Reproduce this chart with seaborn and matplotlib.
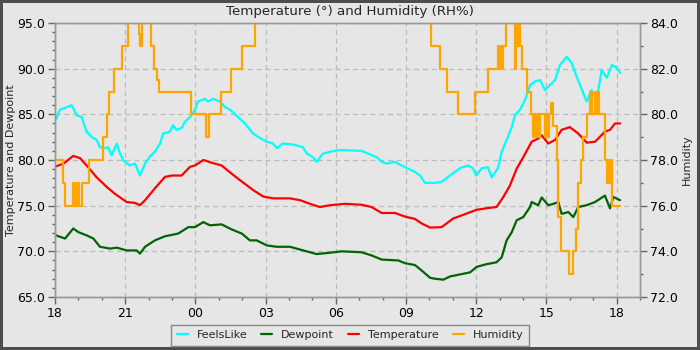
#!/usr/bin/env python3
"""
Temperature / humidity chart for the last 25 hours (18:00 -> 19:00 next day).
Times are hours after 18:00. Humidity is plotted as steps on a right-hand axis.
"""

import numpy as np
import pandas as pd
import matplotlib
matplotlib.use("Agg")
import matplotlib.pyplot as plt
from matplotlib.ticker import MultipleLocator, FuncFormatter, FormatStrFormatter
import seaborn as sns

# FeelsLike (deg)
feels_t = [0.04, 0.21, 0.43, 0.71, 0.93, 1.14, 1.35, 1.57, 1.78, 1.92, 2.14, 2.27, 2.42, 2.64,
           2.78, 2.91, 3.2, 3.42, 3.63, 3.85, 4.06, 4.27, 4.49, 4.62, 4.91, 5.04, 5.2, 5.41,
           5.56, 5.77, 5.98, 6.11, 6.41, 6.54, 6.75, 7.05, 7.26, 7.48, 7.82, 8.12, 8.46, 8.76,
           9.05, 9.32, 9.47, 9.74, 10.17, 10.6, 10.76, 11.03, 11.18, 11.45, 11.75, 12.18, 13.1,
           13.38, 13.75, 13.96, 14.17, 14.53, 14.96, 15.38, 15.6, 15.81, 16.24, 16.52, 16.88,
           17.3, 17.65, 17.86, 18.0, 18.24, 18.5, 18.66, 18.93, 19.09, 19.3, 19.52, 19.66,
           19.87, 20.09, 20.3, 20.51, 20.73, 20.94, 21.15, 21.37, 21.58, 21.87, 22.08, 22.35,
           22.72, 22.93, 23.15, 23.36, 23.58, 23.8, 24.0, 24.15]
feels_v = [84.4, 85.5, 85.7, 86.0, 84.9, 84.7, 83.1, 82.5, 82.2, 81.4, 81.3, 81.4, 80.5, 81.8,
           80.7, 80.0, 79.4, 79.6, 78.3, 79.6, 80.4, 80.9, 81.8, 82.9, 83.1, 83.8, 83.3, 83.5,
           84.2, 84.7, 85.5, 86.4, 86.7, 86.4, 86.7, 86.4, 85.8, 85.5, 84.7, 84.0, 82.9, 82.4,
           82.0, 81.8, 81.3, 81.8, 81.7, 81.4, 80.7, 80.3, 79.8, 80.7, 80.9, 81.1, 81.0,
           80.7, 80.3, 79.8, 79.6, 79.8, 79.2, 78.7, 78.3, 77.5, 77.5, 77.6, 78.3,
           79.1, 79.4, 79.1, 78.3, 79.1, 79.2, 78.1, 79.1, 80.9, 82.2, 83.6, 84.9,
           85.5, 86.6, 88.2, 88.6, 88.75, 87.65, 88.2, 88.75, 90.4, 91.3, 90.6, 88.75,
           86.4, 87.65, 86.6, 89.85, 89.0, 90.4, 90.1, 89.55]

# Temperature (deg)
temp_t = [0.04, 0.36, 0.78, 1.07, 1.42, 1.78, 2.21, 2.56, 3.06, 3.42, 3.63, 3.85, 4.27, 4.7,
          4.99, 5.41, 5.77, 5.98, 6.34, 6.7, 7.12, 7.55, 7.9, 8.47, 8.9, 9.33, 10.04, 10.47,
          10.9, 11.32, 11.75, 12.39, 13.1, 13.53, 13.96, 14.53, 14.96, 15.38, 15.67, 16.03,
          16.52, 17.02, 17.45, 18.02, 18.52, 18.87, 19.16, 19.44, 19.73, 20.01, 20.37, 20.65,
          20.8, 21.08, 21.37, 21.65, 22.0, 22.36, 22.72, 23.08, 23.5, 23.72, 23.93, 24.15]
temp_v = [79.3, 79.6, 80.45, 80.2, 79.2, 78.1, 77.05, 76.3, 75.4, 75.3, 75.05, 75.6, 76.9, 78.15,
          78.3, 78.3, 79.25, 79.4, 80.0, 79.7, 79.4, 78.5, 77.8, 76.7, 76.0, 75.8, 75.8, 75.6,
          75.2, 74.85, 75.05, 75.2, 75.1, 74.85, 74.2, 74.2, 73.8, 73.55, 73.05, 72.6,
          72.65, 73.6, 74.0, 74.55, 74.75, 74.85, 75.95, 77.2, 79.05, 80.3, 82.0, 82.35,
          82.7, 81.8, 82.2, 83.3, 83.6, 82.9, 81.9, 82.0, 83.1, 83.3, 84.0, 84.0]

# Dewpoint (deg)
dew_t = [0.04, 0.43, 0.78, 1.0, 1.35, 1.64, 1.92, 2.35, 2.64, 3.06, 3.49, 3.63, 3.85, 4.27,
         4.7, 5.27, 5.7, 5.98, 6.34, 6.62, 7.12, 7.55, 7.98, 8.33, 8.62, 9.05, 9.47, 10.04,
         10.61, 11.18, 11.75, 12.25, 13.1, 13.53, 13.96, 14.67, 14.96, 15.38, 15.67, 16.03,
         16.24, 16.6, 16.88, 17.17, 17.74, 18.02, 18.45, 18.87, 19.09, 19.3, 19.52, 19.73,
         20.01, 20.3, 20.37, 20.65, 20.8, 21.08, 21.3, 21.51, 21.65, 21.94, 22.15, 22.36,
         22.72, 23.08, 23.5, 23.72, 23.86, 24.15]
dew_v = [71.75, 71.4, 72.5, 72.1, 71.75, 71.4, 70.5, 70.3, 70.4, 70.1, 70.1, 69.75, 70.5, 71.2,
         71.65, 71.95, 72.65, 72.65, 73.2, 72.85, 72.95, 72.4, 71.95, 71.2, 71.2, 70.65, 70.5, 70.5,
         70.1, 69.7, 69.85, 70.0, 69.9, 69.55, 69.1, 69.0, 68.7, 68.5, 67.9, 67.1,
         67.0, 66.9, 67.25, 67.4, 67.7, 68.3, 68.6, 68.8, 69.35, 71.2, 72.1, 73.4,
         73.75, 74.85, 75.4, 75.05, 75.9, 75.05, 75.2, 75.4, 74.1, 74.3, 73.75, 74.85,
         75.05, 75.4, 76.1, 74.7, 75.95, 75.6]

# Humidity (RH%), step changes; values above 84 run off the top of the chart
hum_t = [0.04, 0.33, 0.41, 0.76, 0.82, 0.87, 0.94, 0.98, 1.04, 1.15, 1.44, 2.04, 2.24, 2.32,
         2.52, 2.85, 3.11, 3.59, 3.65, 3.70, 4.09, 4.23, 4.38, 4.44, 5.81, 6.44, 6.58, 7.08,
         7.52, 7.98, 8.55, 16.07, 16.45, 16.74, 17.24, 17.95, 18.52, 18.93, 18.99, 19.06,
         19.1, 19.16, 19.27, 19.66, 19.70, 19.76, 19.82, 19.88, 19.94, 20.16, 20.34, 20.43,
         20.49, 20.56, 20.62, 20.68, 20.73, 20.94, 21.0, 21.06, 21.13, 21.2, 21.3, 21.44,
         21.51, 21.62, 21.97, 22.13, 22.27, 22.37, 22.48, 22.58, 22.72, 22.86, 22.93, 23.06,
         23.12, 23.18, 23.25, 23.5, 23.57, 23.62, 23.69, 23.75, 23.82, 24.15]
hum_v = [78, 77, 76, 77, 76, 77, 76, 77, 76, 77, 78, 79, 80, 81,
         82, 83, 85, 83.5, 83, 85, 83, 82, 81.5, 81, 80, 79, 80, 81,
         82, 83, 85, 83, 82, 81, 80, 81, 82, 83, 82, 83,
         82, 83, 85, 82, 85, 83, 85, 83, 82, 81, 80, 79,
         80, 79, 80, 79, 80, 79, 80, 79, 80, 80.5, 79.5, 78,
         75.5, 74, 73, 74, 75, 77, 78, 79, 80, 81, 80, 81,
         80, 81, 80, 78, 77, 78, 77, 78, 76, 76]

BG = "#e6e6e6"
COLORS = {"FeelsLike": "#00ffff", "Dewpoint": "#006400", "Temperature": "#ff0000", "Humidity": "#ffa500"}

sns.set_theme(style="ticks")
plt.rcParams["font.family"] = ["DejaVu Sans"]

fig = plt.figure(figsize=(7, 3.5), dpi=100, facecolor=BG, edgecolor="#4d4d4d", linewidth=4)
ax = fig.add_axes([55 / 700, 1 - 297 / 350, (640 - 55) / 700, (297 - 23) / 350])
ax.set_facecolor(BG)
ax2 = ax.twinx()

df_feels = pd.DataFrame({"t": feels_t, "v": feels_v})
df_dew = pd.DataFrame({"t": dew_t, "v": dew_v})
df_temp = pd.DataFrame({"t": temp_t, "v": temp_v})
df_hum = pd.DataFrame({"t": hum_t, "v": hum_v})

sns.lineplot(data=df_feels, x="t", y="v", color=COLORS["FeelsLike"], lw=1.6, label="FeelsLike", ax=ax)
sns.lineplot(data=df_dew, x="t", y="v", color=COLORS["Dewpoint"], lw=1.6, label="Dewpoint", ax=ax)
sns.lineplot(data=df_temp, x="t", y="v", color=COLORS["Temperature"], lw=1.6, label="Temperature", ax=ax)
sns.lineplot(data=df_hum, x="t", y="v", color=COLORS["Humidity"], lw=1.6, label="Humidity",
             drawstyle="steps-post", ax=ax2)
for a in (ax, ax2):
    if a.get_legend() is not None:
        a.get_legend().remove()

# axes, ticks, grid
ax.set_xlim(0, 25)
ax.set_ylim(65, 95)
ax2.set_ylim(72, 84)
ax.xaxis.set_major_locator(MultipleLocator(3))
ax.xaxis.set_minor_locator(MultipleLocator(1))
ax.xaxis.set_major_formatter(FuncFormatter(lambda v, p: f"{(18 + int(round(v))) % 24:02d}"))
ax.yaxis.set_major_locator(MultipleLocator(5))
ax.yaxis.set_minor_locator(MultipleLocator(1))
ax.yaxis.set_major_formatter(FormatStrFormatter("%.1f"))
ax2.yaxis.set_major_locator(MultipleLocator(2))
ax2.yaxis.set_minor_locator(MultipleLocator(1))
ax2.yaxis.set_major_formatter(FormatStrFormatter("%.1f"))

for a in (ax, ax2):
    a.tick_params(which="major", direction="out", length=5, width=1, color="#666666",
                  labelsize=9, labelcolor="black", pad=2)
    a.tick_params(which="minor", direction="out", length=2.5, width=1, color="#666666")
    for s in a.spines.values():
        s.set_color("#999999")
        s.set_linewidth(1)
        s.set_visible(True)

ax.grid(True, which="major", linestyle=(0, (4, 3)), color="#bbbbbb", linewidth=0.9)
ax2.grid(False)
ax.set_axisbelow(True)

ax.set_xlabel("")
ax.set_ylabel("Temperature and Dewpoint", fontsize=8, labelpad=1)
ax2.set_ylabel("Humidity", fontsize=8, labelpad=3)

fig.text(0.5, 1 - 11 / 350, "Temperature (°) and Humidity (RH%)", ha="center", va="center", fontsize=9.6)

h1, l1 = ax.get_legend_handles_labels()
h2, l2 = ax2.get_legend_handles_labels()
leg = fig.legend(h1 + h2, l1 + l2, loc="lower center", bbox_to_anchor=(0.5, -0.004), ncol=4,
                 fontsize=8, frameon=True, fancybox=False, framealpha=1, facecolor=BG,
                 edgecolor="#888888", handlelength=1.0, handletextpad=0.8, columnspacing=1.25,
                 borderpad=0.5)
leg.get_frame().set_linewidth(1)

fig.savefig("out.png", dpi=100, facecolor=fig.get_facecolor(), edgecolor=fig.get_edgecolor())
plt.close()
